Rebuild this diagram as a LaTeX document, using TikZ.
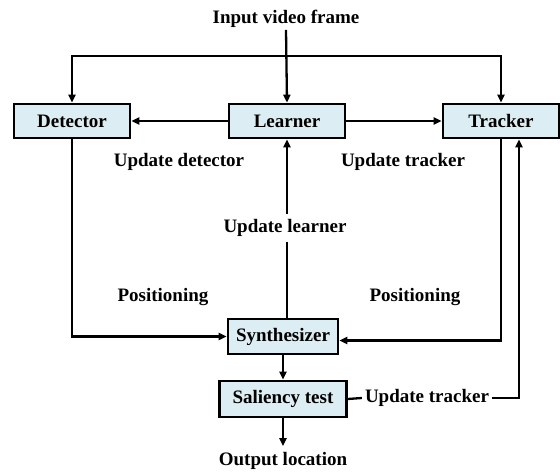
\documentclass[tikz,border=0pt]{standalone}
\usepackage{fontspec}
\setmainfont{Liberation Serif}
\usetikzlibrary{arrows.meta, positioning}
\definecolor{celeste}{RGB}{220,237,243}
\tikzstyle{modulo} = [draw=black, fill=celeste, line width=2.6pt, rectangle, minimum width=116pt, minimum height=34pt, inner sep=0pt]
\tikzstyle{rotulo} = [inner sep=2pt]
\tikzstyle{flecha} = [line width=2.3pt, -{Triangle[length=8pt,width=7pt]}]
\tikzstyle{linea} = [line width=2.3pt]

\begin{document}
\begin{tikzpicture}[x=1pt, y=-1pt, font=\fontsize{19}{22}\selectfont\bfseries]
	\useasboundingbox (0,0) rectangle (560,473);
	\node [modulo] (det) at (72,121) {Detector};
	\node [modulo] (lrn) at (287,121) {Learner};
	\node [modulo] (trk) at (501,121) {Tracker};
	\node [modulo, minimum width=110pt, minimum height=35pt] (syn) at (283,336.5) {Synthesizer};
	\node [modulo, minimum width=127pt, minimum height=36pt] (sal) at (283,399) {Saliency test};
	\node [rotulo] (inp) at (286,19) {Input video frame};
	\node [rotulo, inner sep=6pt] (out) at (283,461) {Output location};
	\node [rotulo] (updd) at (179,162) {Update detector};
	\node [rotulo] (updt) at (403,162) {Update tracker};
	\node [rotulo] (positl) at (163,297) {Positioning};
	\node [rotulo] (positr) at (415,297) {Positioning};
	\node [rotulo, inner sep=3pt] (updt2) at (427,398) {Update tracker};
	\coordinate (split) at (286,56);
	% entrada
	\draw [flecha] (inp.south) -- (lrn.north);
	\draw [flecha] (split) -| (det.north);
	\draw [flecha] (split) -| (trk.north);
	\draw [flecha] (lrn.west) -- (det.east);
	\draw [flecha] (lrn.east) -- (trk.west);
	% posicionamiento
	\draw [flecha] (det.south) |- (syn.west);
	\draw [flecha] (trk.south) |- ([yshift=-4pt]syn.east);
	\draw [flecha] (lrn |- syn.north) -- (lrn.south);
	\node [rotulo, fill=white, inner sep=5pt] (updl) at (285,228) {Update learner};
	\draw [flecha] (syn.south) -- (sal.north);
	\draw [flecha] (sal.south) -- (out.north);
	\draw [linea] (sal.east) -- (updt2.west);
	\draw [flecha] (updt2.east) -| ([xshift=18pt]trk.south);
\end{tikzpicture}
\end{document}
